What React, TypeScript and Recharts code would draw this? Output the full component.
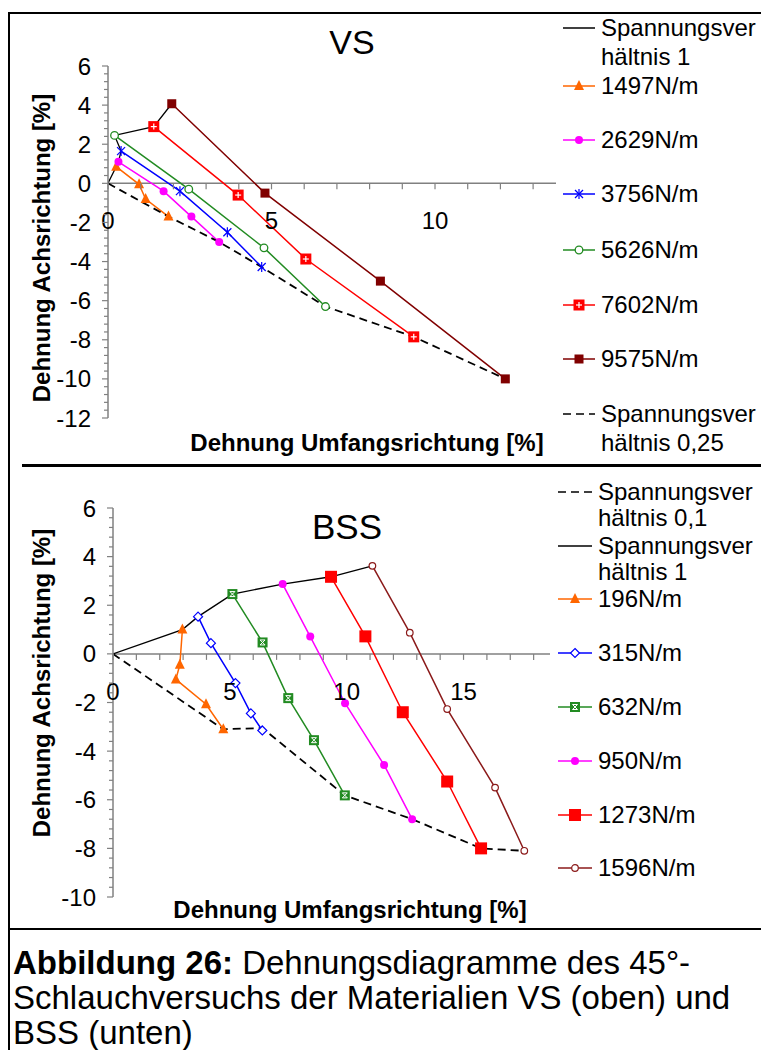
import React from 'react';
import { LineChart, Line, XAxis, YAxis, ReferenceLine } from 'recharts';

// ---------- VS (oben) ----------
const vsRatio1X = [0, 0.25, 0.32, 0.4, 0.2, 1.4, 1.95];
const vsRatio1Y = [0, 0.85, 1.1, 1.65, 2.45, 2.9, 4.07];
const vsRatio025X = [0, 1.85, 3.4, 4.7, 6.65, 9.35, 12.15];
const vsRatio025Y = [0, -1.7, -3.0, -4.28, -6.3, -7.85, -10.0];
const vs1497X = [0.25, 0.95, 1.15, 1.85];
const vs1497Y = [0.85, -0.05, -0.8, -1.7];
const vs2629X = [0.32, 1.7, 2.55, 3.4];
const vs2629Y = [1.1, -0.4, -1.7, -3.0];
const vs3756X = [0.4, 2.2, 3.65, 4.7];
const vs3756Y = [1.65, -0.4, -2.5, -4.28];
const vs5626X = [0.2, 2.47, 4.77, 6.65];
const vs5626Y = [2.45, -0.3, -3.3, -6.3];
const vs7602X = [1.4, 3.98, 6.05, 9.35];
const vs7602Y = [2.9, -0.6, -3.87, -7.85];
const vs9575X = [1.95, 4.8, 8.33, 12.15];
const vs9575Y = [4.07, -0.5, -5.0, -10.0];

// ---------- BSS (unten) ----------
const bssRatio01X = [0, 4.72, 6.39, 9.92, 12.8, 15.75, 17.6];
const bssRatio01Y = [0, -3.1, -3.05, -5.82, -6.8, -8.0, -8.1];
const bssRatio1X = [0, 2.97, 3.64, 5.11, 7.26, 9.33, 11.1];
const bssRatio1Y = [0, 1.0, 1.53, 2.46, 2.87, 3.17, 3.62];
const bss196X = [2.97, 2.86, 2.69, 3.98, 4.72];
const bss196Y = [1.0, -0.45, -1.05, -2.07, -3.1];
const bss315X = [3.64, 4.19, 5.24, 5.9, 6.39];
const bss315Y = [1.53, 0.44, -1.2, -2.45, -3.15];
const bss632X = [5.11, 6.4, 7.5, 8.6, 9.92];
const bss632Y = [2.46, 0.47, -1.82, -3.55, -5.82];
const bss950X = [7.26, 8.44, 9.93, 11.6, 12.8];
const bss950Y = [2.87, 0.71, -2.03, -4.57, -6.8];
const bss1273X = [9.33, 10.8, 12.4, 14.3, 15.75];
const bss1273Y = [3.17, 0.72, -2.4, -5.25, -8.0];
const bss1596X = [11.1, 12.7, 14.3, 16.35, 17.6];
const bss1596Y = [3.62, 0.87, -2.27, -5.5, -8.1];

// ---------- axes ----------
const vsXTicks = [0, 1, 2, 3, 4, 5, 6, 7, 8, 9, 10, 11, 12, 13];
const bssXTicks = [0, 1, 2, 3, 4, 5, 6, 7, 8, 9, 10, 11, 12, 13, 14, 15, 16, 17, 18];
const xLabelTicks = [0, 5, 10, 15];
const vsYLabels = [6, 4, 2, 0, -2, -4, -6, -8, -10, -12];
const bssYLabels = [6, 4, 2, 0, -2, -4, -6, -8, -10];

const FONT = '"Liberation Sans", Arial, Helvetica, sans-serif';
const AXIS = '#808080';

type Pt = { x: number; y: number };
const zip = (xs: number[], ys: number[]): Pt[] => xs.map((x, i) => ({ x, y: ys[i] }));

type MarkerType =
  | 'triangle' | 'circle' | 'circleOpen' | 'star' | 'squarePlus' | 'square'
  | 'diamondOpen' | 'squareX' | 'circleOpenSmall' | 'squareBig';

type Series = {
  key: string;
  label: string[];
  color: string;
  marker: MarkerType | null;
  dash?: string;
  curve?: 'linear' | 'monotone';
  width?: number;
  data: Pt[];
};

function Marker({ type, cx, cy, color }: { type: MarkerType; cx: number; cy: number; color: string }) {
  switch (type) {
    case 'triangle': {
      const s = 5;
      return <polygon points={`${cx},${cy - s - 1} ${cx - s},${cy + s - 1} ${cx + s},${cy + s - 1}`} fill={color} />;
    }
    case 'circle':
      return <circle cx={cx} cy={cy} r={4} fill={color} />;
    case 'circleOpen':
      return <circle cx={cx} cy={cy} r={3.8} fill="#fff" stroke={color} strokeWidth={1.3} />;
    case 'circleOpenSmall':
      return <circle cx={cx} cy={cy} r={3.3} fill="#fff" stroke={color} strokeWidth={1.2} />;
    case 'star':
      return (
        <g stroke={color} strokeWidth={1.2}>
          <line x1={cx - 4} y1={cy - 4} x2={cx + 4} y2={cy + 4} />
          <line x1={cx - 4} y1={cy + 4} x2={cx + 4} y2={cy - 4} />
          <line x1={cx} y1={cy - 5} x2={cx} y2={cy + 5} />
        </g>
      );
    case 'squarePlus':
      return (
        <g>
          <rect x={cx - 5.5} y={cy - 5.5} width={11} height={11} fill={color} />
          <line x1={cx - 3} y1={cy} x2={cx + 3} y2={cy} stroke="#fff" strokeWidth={1.2} />
          <line x1={cx} y1={cy - 3} x2={cx} y2={cy + 3} stroke="#fff" strokeWidth={1.2} />
        </g>
      );
    case 'square':
      return <rect x={cx - 4.5} y={cy - 4.5} width={9} height={9} fill={color} />;
    case 'squareBig':
      return <rect x={cx - 6} y={cy - 6} width={12} height={12} fill={color} />;
    case 'diamondOpen':
      return <polygon points={`${cx},${cy - 4.5} ${cx + 4.5},${cy} ${cx},${cy + 4.5} ${cx - 4.5},${cy}`} fill="#fff" stroke={color} strokeWidth={1.2} />;
    case 'squareX':
      return (
        <g>
          <rect x={cx - 5} y={cy - 5} width={10} height={10} fill={color} />
          <line x1={cx - 2.5} y1={cy - 2.5} x2={cx + 2.5} y2={cy + 2.5} stroke="#fff" strokeWidth={1} />
          <line x1={cx - 2.5} y1={cy + 2.5} x2={cx + 2.5} y2={cy - 2.5} stroke="#fff" strokeWidth={1} />
          <line x1={cx - 2.5} y1={cy - 2.5} x2={cx + 2.5} y2={cy - 2.5} stroke="#fff" strokeWidth={1} />
          <line x1={cx - 2.5} y1={cy + 2.5} x2={cx + 2.5} y2={cy + 2.5} stroke="#fff" strokeWidth={1} />
        </g>
      );
    default:
      return null;
  }
}

const vsSeries: Series[] = [
  { key: 'vsR1', label: ['Spannungsver', 'hältnis 1'], color: '#000', marker: null, data: zip(vsRatio1X, vsRatio1Y), width: 1.3 },
  { key: 'vs1497', label: ['1497N/m'], color: '#FF6600', marker: 'triangle', data: zip(vs1497X, vs1497Y) },
  { key: 'vs2629', label: ['2629N/m'], color: '#FF00FF', marker: 'circle', data: zip(vs2629X, vs2629Y) },
  { key: 'vs3756', label: ['3756N/m'], color: '#0000FF', marker: 'star', data: zip(vs3756X, vs3756Y) },
  { key: 'vs5626', label: ['5626N/m'], color: '#228B22', marker: 'circleOpen', data: zip(vs5626X, vs5626Y) },
  { key: 'vs7602', label: ['7602N/m'], color: '#FF0000', marker: 'squarePlus', data: zip(vs7602X, vs7602Y) },
  { key: 'vs9575', label: ['9575N/m'], color: '#800000', marker: 'square', data: zip(vs9575X, vs9575Y) },
  { key: 'vsR025', label: ['Spannungsver', 'hältnis 0,25'], color: '#000', marker: null, dash: '8 5', data: zip(vsRatio025X, vsRatio025Y), width: 1.8 },
];

const bssSeries: Series[] = [
  { key: 'bssR01', label: ['Spannungsver', 'hältnis 0,1'], color: '#000', marker: null, dash: '8 5', data: zip(bssRatio01X, bssRatio01Y), width: 1.8 },
  { key: 'bssR1', label: ['Spannungsver', 'hältnis 1'], color: '#000', marker: null, data: zip(bssRatio1X, bssRatio1Y), width: 1.4 },
  { key: 'bss196', label: ['196N/m'], color: '#FF6600', marker: 'triangle', data: zip(bss196X, bss196Y) },
  { key: 'bss315', label: ['315N/m'], color: '#0000FF', marker: 'diamondOpen', data: zip(bss315X, bss315Y) },
  { key: 'bss632', label: ['632N/m'], color: '#228B22', marker: 'squareX', data: zip(bss632X, bss632Y) },
  { key: 'bss950', label: ['950N/m'], color: '#FF00FF', marker: 'circle', data: zip(bss950X, bss950Y) },
  { key: 'bss1273', label: ['1273N/m'], color: '#FF0000', marker: 'squareBig', data: zip(bss1273X, bss1273Y) },
  { key: 'bss1596', label: ['1596N/m'], color: '#8B1A1A', marker: 'circleOpenSmall', data: zip(bss1596X, bss1596Y) },
];

const minorTicks = (min: number, max: number) => {
  const out: number[] = [];
  const n = Math.round((max - min) / 0.4);
  for (let i = 0; i <= n; i++) out.push(Math.round((min + i * 0.4) * 10) / 10);
  return out;
};

type PanelProps = {
  left: number; top: number; width: number; height: number;
  margin: { top: number; right: number; bottom: number; left: number };
  yAxisWidth: number; xAxisHeight: number;
  xDomain: [number, number]; yDomain: [number, number];
  xTicks: number[]; yLabels: number[];
  series: Series[];
};

function Panel(p: PanelProps) {
  const plotH = p.height - p.margin.top - p.margin.bottom - p.xAxisHeight;
  const plotLeft = p.margin.left + p.yAxisWidth;
  const zeroY = p.margin.top + (plotH * p.yDomain[1]) / (p.yDomain[1] - p.yDomain[0]);
  const yTicks = minorTicks(p.yDomain[0], p.yDomain[1]);

  const XTick = (props: any) => {
    const { x, payload } = props;
    const v = payload.value;
    return (
      <g>
        <line x1={x} x2={x} y1={zeroY} y2={zeroY + 6} stroke={AXIS} strokeWidth={1.2} />
        {xLabelTicks.includes(v) && (
          <text x={x} y={zeroY + 46} textAnchor="middle" fontSize={24} fontFamily={FONT} fill="#000">
            {v}
          </text>
        )}
      </g>
    );
  };

  const YTick = (props: any) => {
    const { y, payload } = props;
    const v = payload.value;
    const major = p.yLabels.includes(v);
    return (
      <g>
        <line x1={plotLeft - (major ? 6 : 4)} x2={plotLeft} y1={y} y2={y} stroke={AXIS} strokeWidth={1.2} />
        {major && (
          <text x={plotLeft - 17} y={y + 8.5} textAnchor="end" fontSize={24} fontFamily={FONT} fill="#000">
            {v}
          </text>
        )}
      </g>
    );
  };

  return (
    <div style={{ position: 'absolute', left: p.left, top: p.top }}>
      <LineChart width={p.width} height={p.height} margin={p.margin}>
        <XAxis
          type="number"
          dataKey="x"
          domain={p.xDomain}
          ticks={p.xTicks}
          interval={0}
          height={p.xAxisHeight}
          axisLine={false}
          tickLine={false}
          tick={XTick}
          allowDataOverflow
        />
        <YAxis
          type="number"
          dataKey="y"
          domain={p.yDomain}
          ticks={yTicks}
          interval={0}
          width={p.yAxisWidth}
          axisLine={{ stroke: AXIS, strokeWidth: 1.5 }}
          tickLine={false}
          tick={YTick}
          allowDataOverflow
        />
        <ReferenceLine y={0} stroke={AXIS} strokeWidth={1.5} ifOverflow="extendDomain" />
        {p.series.map((s) => (
          <Line
            key={s.key}
            data={s.data}
            dataKey="y"
            type={s.curve || 'linear'}
            stroke={s.color}
            strokeWidth={s.width || 1.5}
            strokeDasharray={s.dash}
            isAnimationActive={false}
            activeDot={false}
            dot={
              s.marker
                ? (dp: any) => (
                    <Marker key={`${s.key}-${dp.index}`} type={s.marker as MarkerType} cx={dp.cx} cy={dp.cy} color={s.color} />
                  )
                : false
            }
          />
        ))}
      </LineChart>
    </div>
  );
}

type LegendRow = { series: Series; y: number };

function LegendBlock({ rows, lineX, textX, lineGap }: { rows: LegendRow[]; lineX: [number, number]; textX: number; lineGap: number }) {
  return (
    <>
      {rows.map(({ series, y }) => (
        <React.Fragment key={series.key}>
          <svg
            style={{ position: 'absolute', left: lineX[0], top: y - 8 }}
            width={lineX[1] - lineX[0]}
            height={16}
          >
            <line
              x1={0}
              x2={lineX[1] - lineX[0]}
              y1={8}
              y2={8}
              stroke={series.color}
              strokeWidth={series.dash ? 1.6 : 1.5}
              strokeDasharray={series.dash ? '8 5' : undefined}
            />
            {series.marker && (
              <Marker type={series.marker} cx={(lineX[1] - lineX[0]) / 2} cy={8} color={series.color} />
            )}
          </svg>
          {series.label.map((l, i) => (
            <div
              key={i}
              style={{
                position: 'absolute',
                left: textX,
                top: y - 11 + i * lineGap,
                fontFamily: FONT,
                fontSize: 24,
                lineHeight: '22px',
                whiteSpace: 'nowrap',
                color: '#000',
              }}
            >
              {l}
            </div>
          ))}
        </React.Fragment>
      ))}
    </>
  );
}

const vsLegendY = [28, 86, 140, 194, 250, 305, 359, 414];
const bssLegendY = [492, 546, 599, 653, 707, 761, 815, 868];

const textStyle = (size: number, bold = false): React.CSSProperties => ({
  position: 'absolute',
  fontFamily: FONT,
  fontSize: size,
  fontWeight: bold ? 'bold' : 'normal',
  lineHeight: 1,
  whiteSpace: 'nowrap',
  transform: 'translate(-50%, -50%)',
  color: '#000',
});

export default function App() {
  return (
    <div style={{ position: 'absolute', left: 0, top: 0, width: 761, height: 1050, background: '#fff', overflow: 'hidden' }}>
      {/* frame */}
      <div style={{ position: 'absolute', left: 9, top: 12, width: 760, height: 2, background: '#000' }} />
      <div style={{ position: 'absolute', left: 8, top: 12, width: 2, height: 1040, background: '#000' }} />
      <div style={{ position: 'absolute', left: 9, top: 928, width: 760, height: 2, background: '#000' }} />
      <div style={{ position: 'absolute', left: 22, top: 464, width: 740, height: 3, background: '#000' }} />

      <Panel
        left={9}
        top={13}
        width={752}
        height={453}
        margin={{ top: 53, right: 205, bottom: 0, left: 0 }}
        yAxisWidth={99}
        xAxisHeight={48}
        xDomain={[0, 13.7]}
        yDomain={[-12, 6]}
        xTicks={vsXTicks}
        yLabels={vsYLabels}
        series={vsSeries}
      />
      <Panel
        left={9}
        top={468}
        width={752}
        height={461}
        margin={{ top: 40, right: 211, bottom: 0, left: 0 }}
        yAxisWidth={104}
        xAxisHeight={32}
        xDomain={[0, 18.7]}
        yDomain={[-10, 6]}
        xTicks={bssXTicks}
        yLabels={bssYLabels}
        series={bssSeries}
      />

      {/* titles & axis labels */}
      <div style={{ ...textStyle(34), left: 352, top: 42 }}>VS</div>
      <div style={{ ...textStyle(35), left: 347, top: 526 }}>BSS</div>
      <div style={{ ...textStyle(24, true), left: 367, top: 443 }}>Dehnung Umfangsrichtung [%]</div>
      <div style={{ ...textStyle(24, true), left: 350, top: 910 }}>Dehnung Umfangsrichtung [%]</div>
      <div style={{ ...textStyle(24, true), left: 42, top: 248, transform: 'translate(-50%, -50%) rotate(-90deg)' }}>
        Dehnung Achsrichtung [%]
      </div>
      <div style={{ ...textStyle(24, true), left: 42, top: 683, transform: 'translate(-50%, -50%) rotate(-90deg)' }}>
        Dehnung Achsrichtung [%]
      </div>

      {/* legends */}
      <LegendBlock rows={vsSeries.map((s, i) => ({ series: s, y: vsLegendY[i] }))} lineX={[563, 595]} textX={601} lineGap={29} />
      <LegendBlock rows={bssSeries.map((s, i) => ({ series: s, y: bssLegendY[i] }))} lineX={[558, 592]} textX={598} lineGap={26} />

      {/* caption */}
      <div
        style={{
          position: 'absolute',
          left: 13,
          top: 945,
          fontFamily: FONT,
          fontSize: 33,
          lineHeight: '35px',
          whiteSpace: 'nowrap',
          color: '#000',
        }}
      >
        <div>
          <b>Abbildung 26:</b> Dehnungsdiagramme des 45°-
        </div>
        <div>Schlauchversuchs der Materialien VS (oben) und</div>
        <div>BSS (unten)</div>
      </div>
    </div>
  );
}
